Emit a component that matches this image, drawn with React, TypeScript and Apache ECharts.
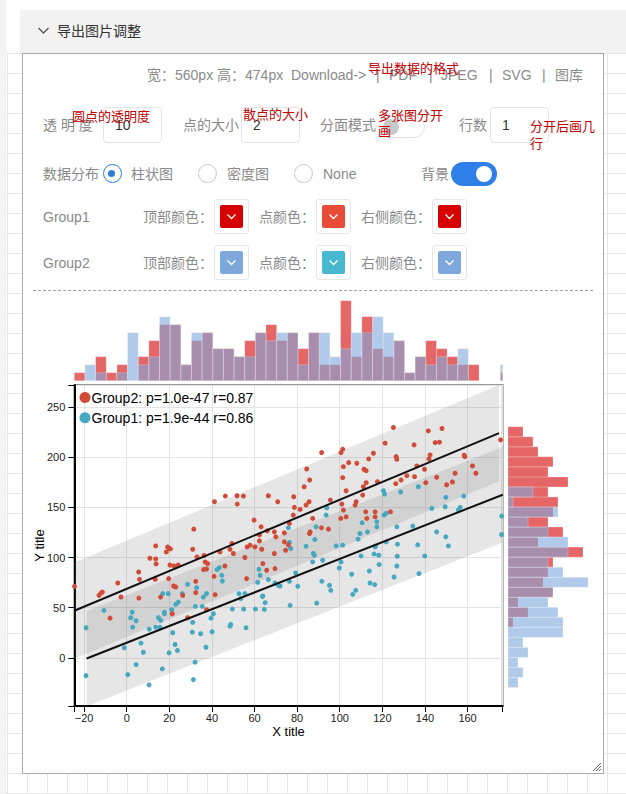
import React, { useEffect, useRef } from "react";
import * as echarts from "echarts";

// ---------------- data ----------------
const RED_NAME = "Group2: p=1.0e-47 r=0.87";
const BLUE_NAME = "Group1: p=1.9e-44 r=0.86";

const RED_POINTS: number[][] = [
  [41.2, 155.6], [46.3, 161.3], [51.8, 161.6], [54.8, 161.3], [51.9, 153.3], [31.5, 128.3], [49.4, 114], [59.8, 137.3], [63.1, 130.6], [62.3, 122.6], [66, 126.6], [62.3, 116.6],
  [91.5, 204.6], [100.6, 204.6], [101.4, 208], [84.5, 188.3], [85.9, 177.3], [83.3, 170.6], [78.4, 160.6], [66.5, 161.6], [70.9, 155.6], [78.7, 150], [81.4, 148], [84.2, 152.3], [85.6, 155.6], [78.2, 142.3], [76.4, 134], [69.3, 125.6], [74, 124.6], [85.8, 124], [86.1, 125.6], [87.3, 139], [95.6, 157.3], [91.4, 129.6], [94.7, 128.3], [100.5, 139], [103, 140.6], [101, 153.3], [101.7, 147.3], [101.4, 179.6], [101.7, 190.6], [104.2, 194.6], [108, 194], [111.4, 188], [112.4, 186.6], [113.6, 198.3], [115.8, 204], [121.3, 214], [125.2, 229.6], [126.8, 198], [126.5, 200.6], [117.7, 175.6], [112.4, 174.6], [111.1, 170.6], [110.8, 162.3], [107.7, 155.6], [107.2, 152.3], [103, 166.6], [112.2, 145.6], [116.6, 145.6], [112.7, 139], [116.6, 140.6], [123.8, 145.6], [126.3, 173.6], [128.8, 177.3], [131.5, 181.6], [135.1, 180.6], [136.2, 191.3], [134.9, 212.3], [139.8, 188], [141.9, 198.3], [142.4, 202.3], [141.6, 226.3], [144.8, 214.6], [146.8, 215], [148, 228.6], [145.5, 180], [140.4, 174.6], [150.2, 172.6], [152.9, 175.3], [154.1, 184], [158.4, 202], [158.7, 200.6], [162.3, 191.3], [163.9, 184], [175.5, 217.3],
  [-24.5, 71.3], [-13, 62.3], [-12.1, 64.6], [-11.4, 65.6], [-4.2, 74.6], [-7.8, 39.6], [-2.7, 60.6], [5.6, 85.6], [6, 78.3], [5.7, 59.6], [10.9, 99.3], [13.6, 111.6], [13.6, 98.6], [13.8, 93.6], [13.4, 78.3], [15.9, 60.6], [18.6, 105.6], [19.2, 110.6], [20, 109], [20.5, 108.6], [19.7, 79], [20.3, 92.6], [21.4, 44], [22, 71.6], [23, 70.6], [24.2, 92.6], [22.2, 91.6], [26.3, 62.3], [28.6, 40], [31, 108.3], [32.4, 76.3], [32.4, 65], [33, 100.6], [36.3, 102], [36.1, 88], [36.8, 95.6], [37.5, 88.6], [38, 94], [41, 81.3], [41.5, 63], [37.5, 48], [43.8, 105.6], [46.1, 91.6], [48.5, 108.3], [50.1, 104], [55.5, 100], [56.3, 79], [56.5, 110.6], [57.9, 112.3], [60.2, 110.6], [63.4, 108.3],
  [63.9, 94], [65.7, 87.3], [69.6, 89], [69.3, 104], [70, 120.6], [74, 115.6], [74.6, 107.3], [75.9, 112.6],
];

const BLUE_POINTS: number[][] = [
  [-19.1, 30], [-19.1, -17.7], [-10.7, 47.3], [-1.1, 10], [0.5, -16.7], [1.9, 40], [2.6, 45.6], [2.8, 30.6], [4.4, 37], [4.4, -6.7], [6.7, 14.6], [7.8, 5.6], [10.6, 28.6], [10.5, -27], [13.6, 30.6], [14.9, 40], [15.6, 30.6], [16, 37.3], [16.7, -11], [16.9, 64], [17.7, 45.6], [17.7, 44], [19.5, 64], [19.9, 5], [21.1, 48], [21.6, 25], [22.7, 13.3], [23, 53.3], [23.8, 7.3], [24.2, 55.6], [26.1, 64], [28.6, 73.3], [30.8, 25.6], [31, 35.3], [31.3, -21.7], [32.1, -4.3], [32.8, 70], [32.2, 51.3], [34.7, 24], [35.5, 51.3], [36, 60.6], [37.2, 10.6], [37.5, 64], [39.6, 39.6], [40.1, 26], [40.7, 44], [42.4, 88], [43.5, 90], [44.6, 82.3], [44.9, 76.6], [49.6, 48.6], [48.5, 31.6], [48.8, 33.3], [52.7, 64], [53.5, 59], [54.9, 48.6], [55.5, 64], [56, 30], [60.4, 48.6], [61.5, 75.3], [62.1, 88.3], [62.6, 82.3], [63.7, 61.3],
  [63.9, 61.6], [65, 55], [64.6, 48.3], [66.5, 78], [69.6, 74.6], [71.2, 72.3], [72, 71.6], [76.4, 76.3], [76.7, 52.3], [79.3, 84.6], [80.3, 71.3], [87.3, 95.6], [88.1, 102.3], [87.6, 104], [92, 97.3], [91.6, 76.3], [89.2, 54.6], [95.2, 72.3], [95.8, 67.3], [99.8, 89.6], [100.6, 95.6], [105.6, 83.3], [106.1, 63.3], [107.5, 67.3], [110, 101.6], [113.9, 86.6], [114.2, 74.6], [116.4, 73], [116.1, 103.6], [118.3, 102.3], [118.5, 93], [116.7, 111.3], [125.5, 80.6], [126.8, 91.6], [137.2, 84], [139.9, 101.6], [127, 101.3],
  [93.9, 149.6], [93.6, 142.3], [120.5, 166.6], [121, 163.3], [128.6, 165.3], [136.9, 170.6], [149.8, 160], [158.2, 161.3], [156.5, 150], [155.7, 147.3], [149.5, 150.6], [143.2, 149], [126.8, 130.6], [134.3, 131.3], [120.8, 142.3], [121.8, 144], [117.4, 130.6], [117.4, 135.6], [110.5, 134.6], [113, 125.6], [109.5, 124], [108.6, 118.3], [101.4, 112.3], [98.3, 111.6], [88.9, 130.6], [84.2, 111.3], [88.3, 118], [75.9, 129.6], [76.4, 115], [77, 109], [127.1, 113.3], [136.6, 112.6], [145.5, 125.6], [149.8, 120.6], [151, 111.6], [176, 141.3], [176, 123], [121.8, 115.6], [116.6, 110.6],
];

// regression fits and prediction bands [left end, right end]
const RED_FIT_X = [-24.6, 174.8];
const RED_FIT_Y = [47, 224];
const RED_BAND_LO = [-1, 176];
const RED_BAND_HI = [95, 272];
const BLUE_FIT_X = [-18.8, 176.5];
const BLUE_FIT_Y = [-0.7, 162.6];
const BLUE_BAND_LO = [-48.2, 115.1];
const BLUE_BAND_HI = [46.8, 210.1];

// top histogram (x distribution)
const TOP_BIN_START = -24.6;
const TOP_BIN_WIDTH = 5;
const TOP_RED_COUNTS = [1, 0, 3, 1, 2, 0, 3, 5, 7, 7, 2, 5, 6, 4, 4, 3, 5, 6, 7, 5, 6, 4, 6, 2, 2, 10, 3, 8, 4, 3, 5, 1, 3, 5, 4, 3, 2, 2, 0, 0, 1];
const TOP_BLUE_COUNTS = [0, 2, 1, 0, 1, 6, 2, 3, 8, 7, 2, 6, 6, 4, 4, 3, 3, 6, 5, 6, 6, 2, 6, 6, 3, 4, 6, 6, 8, 6, 5, 1, 3, 2, 3, 2, 4, 0, 0, 0, 2];

// right histogram (y distribution), bins listed bottom -> top
const RIGHT_BIN_START = -29.6;
const RIGHT_BIN_WIDTH = 10;
const RIGHT_RED_COUNTS = [0, 0, 0, 0, 0, 0, 1, 4, 2, 9, 7, 8, 9, 15, 6, 11, 8, 9, 10, 8, 12, 8, 9, 6, 5, 3];
const RIGHT_BLUE_COUNTS = [2, 3, 2, 4, 3, 11, 11, 10, 8, 9, 16, 11, 8, 12, 12, 8, 4, 10, 1, 5, 0, 0, 0, 0, 0, 0];

const X_TICKS = [-20, 0, 20, 40, 60, 80, 100, 120, 140, 160];
const Y_TICKS = [0, 50, 100, 150, 200, 250];
const X_MIN = -24.6;
const X_MAX = 176.5;
const Y_MIN = -48;
const Y_MAX = 272;

// colours
const TOP_RED = "#d40000";
const TOP_BLUE = "#7ea7dc";
const DOT_RED = "#d04b38";
const DOT_BLUE = "#46a9c1";

const FONT = '"Liberation Sans", Arial, "Noto Sans CJK SC", sans-serif';

function buildOption() {
  const topRed = TOP_RED_COUNTS.map((c, i) => {
    const x0 = TOP_BIN_START + i * TOP_BIN_WIDTH;
    return [x0, Math.min(x0 + TOP_BIN_WIDTH, X_MAX), c];
  });
  const topBlue = TOP_BLUE_COUNTS.map((c, i) => {
    const x0 = TOP_BIN_START + i * TOP_BIN_WIDTH;
    return [x0, Math.min(x0 + TOP_BIN_WIDTH, X_MAX), c];
  });
  const rightRed = RIGHT_RED_COUNTS.map((c, i) => {
    const y0 = RIGHT_BIN_START + i * RIGHT_BIN_WIDTH;
    return [y0, y0 + RIGHT_BIN_WIDTH, c];
  });
  const rightBlue = RIGHT_BLUE_COUNTS.map((c, i) => {
    const y0 = RIGHT_BIN_START + i * RIGHT_BIN_WIDTH;
    return [y0, y0 + RIGHT_BIN_WIDTH, c];
  });

  const topHist = (color: string) => (params: any, api: any) => {
    const c = api.value(2);
    if (!c) return null;
    const p0 = api.coord([api.value(0), c]);
    const p1 = api.coord([api.value(1), 0]);
    return {
      type: "rect",
      shape: { x: p0[0], y: p0[1], width: p1[0] - p0[0], height: p1[1] - p0[1] },
      style: { fill: color, stroke: "#ffffff", lineWidth: 0.4, opacity: 0.6 },
    };
  };
  const rightHist = (color: string) => (params: any, api: any) => {
    const c = api.value(2);
    if (!c) return null;
    const p0 = api.coord([0, api.value(1)]);
    const p1 = api.coord([c, api.value(0)]);
    return {
      type: "rect",
      shape: { x: p0[0], y: p0[1], width: p1[0] - p0[0], height: p1[1] - p0[1] },
      style: { fill: color, stroke: "#ffffff", lineWidth: 0.4, opacity: 0.6 },
    };
  };
  const band = (params: any, api: any) => {
    const x0 = api.value(0), lo0 = api.value(1), hi0 = api.value(2);
    const x1 = api.value(3), lo1 = api.value(4), hi1 = api.value(5);
    const cs = params.coordSys;
    return {
      type: "polygon",
      shape: { points: [api.coord([x0, hi0]), api.coord([x1, hi1]), api.coord([x1, lo1]), api.coord([x0, lo0])] },
      style: { fill: "rgba(128,128,128,0.2)" },
      clipPath: { type: "rect", shape: { x: cs.x, y: cs.y, width: cs.width, height: cs.height } },
    };
  };
  const minus = (v: number) => String(v).replace("-", "\u2212");

  return {
    animation: false,
    backgroundColor: "#ffffff",
    textStyle: { fontFamily: FONT },
    legend: {
      data: [RED_NAME, BLUE_NAME],
      orient: "vertical",
      left: 46.5,
      top: 98.5,
      padding: 0,
      itemWidth: 11,
      itemHeight: 11,
      itemGap: 6.3,
      icon: "circle",
      selectedMode: false,
      textStyle: { fontSize: 14, color: "#000", fontFamily: FONT, padding: [0, 0, 0, -4] },
    },
    grid: [
      { left: 41.3, top: 93, width: 428.4, height: 321, show: true, borderColor: "#999999", borderWidth: 2, backgroundColor: "#fff", containLabel: false, outerBoundsMode: "none" },
      { left: 41.3, top: 8.7, width: 428.4, height: 80, containLabel: false, outerBoundsMode: "none" },
      { left: 475, top: 93, width: 80, height: 321, containLabel: false, outerBoundsMode: "none" },
    ],
    xAxis: [
      {
        type: "value", gridIndex: 0, min: X_MIN, max: X_MAX,
        name: "X title", nameLocation: "middle", nameGap: 19, nameMoveOverlap: false,
        nameTextStyle: { fontSize: 13, color: "#000" },
        axisLine: { show: true, onZero: false, lineStyle: { color: "#000", width: 2 } },
        axisTick: { show: true, length: 6, customValues: [X_MIN, ...X_TICKS, X_MAX], lineStyle: { color: "#000", width: 1 } },
        axisLabel: { customValues: X_TICKS, fontSize: 11, color: "#222", margin: 6, formatter: minus },
        splitLine: { show: true, lineStyle: { color: "#e3e3e3", width: 1 } },
      },
      { type: "value", gridIndex: 1, min: X_MIN, max: X_MAX, show: false, splitLine: { show: false } },
      { type: "value", gridIndex: 2, min: 0, max: 16, show: false, splitLine: { show: false } },
    ],
    yAxis: [
      {
        type: "value", gridIndex: 0, min: Y_MIN, max: Y_MAX,
        name: "Y title", nameLocation: "middle", nameGap: 28, nameMoveOverlap: false,
        nameTextStyle: { fontSize: 13, color: "#000" },
        axisLine: { show: true, onZero: false, lineStyle: { color: "#000", width: 2 } },
        axisTick: { show: true, length: 6, customValues: [Y_MIN, ...Y_TICKS, Y_MAX], lineStyle: { color: "#000", width: 1 } },
        axisLabel: { customValues: Y_TICKS, fontSize: 11, color: "#222", margin: 9, formatter: minus },
        splitLine: { show: true, lineStyle: { color: "#e3e3e3", width: 1 } },
      },
      { type: "value", gridIndex: 1, min: 0, max: 10, show: false, splitLine: { show: false } },
      { type: "value", gridIndex: 2, min: Y_MIN, max: Y_MAX, show: false, splitLine: { show: false } },
    ],
    series: [
      {
        type: "custom", name: "band2", xAxisIndex: 0, yAxisIndex: 0, z: 1, silent: true,
        renderItem: band, encode: { x: [0, 3], y: [1, 2, 4, 5] },
        data: [[RED_FIT_X[0], RED_BAND_LO[0], RED_BAND_HI[0], RED_FIT_X[1], RED_BAND_LO[1], RED_BAND_HI[1]]],
      },
      {
        type: "custom", name: "band1", xAxisIndex: 0, yAxisIndex: 0, z: 1, silent: true,
        renderItem: band, encode: { x: [0, 3], y: [1, 2, 4, 5] },
        data: [[BLUE_FIT_X[0], BLUE_BAND_LO[0], BLUE_BAND_HI[0], BLUE_FIT_X[1], BLUE_BAND_LO[1], BLUE_BAND_HI[1]]],
      },
      {
        type: "scatter", name: BLUE_NAME, xAxisIndex: 0, yAxisIndex: 0, z: 3,
        symbolSize: 5, itemStyle: { color: DOT_BLUE, opacity: 1 }, data: BLUE_POINTS,
      },
      {
        type: "scatter", name: RED_NAME, xAxisIndex: 0, yAxisIndex: 0, z: 3,
        symbolSize: 5, itemStyle: { color: DOT_RED, opacity: 1 }, data: RED_POINTS,
      },
      {
        type: "line", name: "fit2", xAxisIndex: 0, yAxisIndex: 0, z: 4, silent: true,
        showSymbol: false, lineStyle: { color: "#111", width: 2 },
        data: [[RED_FIT_X[0], RED_FIT_Y[0]], [RED_FIT_X[1], RED_FIT_Y[1]]],
      },
      {
        type: "line", name: "fit1", xAxisIndex: 0, yAxisIndex: 0, z: 4, silent: true,
        showSymbol: false, lineStyle: { color: "#111", width: 2 },
        data: [[BLUE_FIT_X[0], BLUE_FIT_Y[0]], [BLUE_FIT_X[1], BLUE_FIT_Y[1]]],
      },
      { type: "custom", name: "topRed", xAxisIndex: 1, yAxisIndex: 1, silent: true, renderItem: topHist(TOP_RED), encode: { x: [0, 1], y: 2 }, data: topRed },
      { type: "custom", name: "topBlue", xAxisIndex: 1, yAxisIndex: 1, silent: true, renderItem: topHist(TOP_BLUE), encode: { x: [0, 1], y: 2 }, data: topBlue },
      { type: "custom", name: "rightRed", xAxisIndex: 2, yAxisIndex: 2, silent: true, renderItem: rightHist(TOP_RED), encode: { x: 2, y: [0, 1] }, data: rightRed },
      { type: "custom", name: "rightBlue", xAxisIndex: 2, yAxisIndex: 2, silent: true, renderItem: rightHist(TOP_BLUE), encode: { x: 2, y: [0, 1] }, data: rightBlue },
    ],
  };
}

// ---------------- UI helpers ----------------
const GRAY = "#8a8a8a";
const ANNOT = "#c00000";

function T(props: { x: number; y: number; c?: string; s?: number; children: React.ReactNode }) {
  const s = props.s || 14;
  return (
    <div style={{ position: "absolute", left: props.x, top: props.y - 10, lineHeight: "20px", height: 20, fontSize: s, color: props.c || GRAY, whiteSpace: "nowrap" }}>
      {props.children}
    </div>
  );
}

function InputBox(props: { x: number; v: string }) {
  return (
    <>
      <div style={{ position: "absolute", left: props.x, top: 107, width: 59, height: 36, border: "1px solid #e4e4e4", borderRadius: 4, boxSizing: "border-box", background: "#fff" }} />
      <T x={props.x + 12} y={125} c="#333">{props.v}</T>
    </>
  );
}

function Radio(props: { cx: number; on?: boolean }) {
  return (
    <div style={{ position: "absolute", left: props.cx - 9.5, top: 173.5 - 9.5, width: 19, height: 19, borderRadius: "50%", border: "1.5px solid " + (props.on ? "#2e7ddc" : "#c9c9c9"), boxSizing: "border-box", background: "#fff" }}>
      {props.on ? <div style={{ position: "absolute", left: 4.5, top: 4.5, width: 7, height: 7, borderRadius: "50%", background: "#2e7ddc" }} /> : null}
    </div>
  );
}

function ColorBox(props: { x: number; y: number; color: string }) {
  return (
    <div style={{ position: "absolute", left: props.x, top: props.y, width: 35, height: 35, border: "1px solid #e6e6e6", borderRadius: 3, boxSizing: "border-box", background: "#fff" }}>
      <div style={{ position: "absolute", left: 5, top: 5, width: 23, height: 23, borderRadius: 2, background: props.color }}>
        <svg width={23} height={23} style={{ position: "absolute", left: 0, top: 0 }}>
          <polyline points="7.5,9.5 11.5,13.5 15.5,9.5" fill="none" stroke="#fff" strokeWidth={1.3} />
        </svg>
      </div>
    </div>
  );
}

export default function App() {
  const ref = useRef<HTMLDivElement>(null);
  useEffect(() => {
    if (!ref.current) return;
    const chart = echarts.init(ref.current, null, { renderer: "svg" });
    chart.setOption(buildOption() as any);
    return () => chart.dispose();
  }, []);

  return (
    <div style={{ position: "absolute", left: 0, top: 0, width: 626, height: 794, overflow: "hidden", background: "#fff", fontFamily: FONT }}>
      {/* grid background */}
      <div style={{ position: "absolute", left: 6, top: 53, width: 620, height: 741, backgroundImage: "linear-gradient(#e6e6e6 1px, transparent 1px), linear-gradient(90deg, #e6e6e6 1px, transparent 1px)", backgroundSize: "20px 20px", backgroundPosition: "1px 0px" }} />
      <div style={{ position: "absolute", left: 0, top: 0, width: 6, height: 794, background: "#f3f3f3" }} />
      {/* header */}
      <div style={{ position: "absolute", left: 20, top: 10, width: 606, height: 43, background: "#f2f2f2" }} />
      <svg width={14} height={10} style={{ position: "absolute", left: 37, top: 26 }}>
        <polyline points="1.5,2 6.5,7 11.5,2" fill="none" stroke="#555" strokeWidth={1.3} />
      </svg>
      <T x={57} y={31} c="#333">导出图片调整</T>
      {/* box */}
      <div style={{ position: "absolute", left: 22, top: 53, width: 582, height: 721, border: "1px solid #a9a9a9", boxSizing: "border-box", background: "#fff" }} />
      {/* row 1 */}
      <T x={147} y={75}>宽：560px 高：474px</T>
      <T x={291} y={75}>Download-&gt;</T>
      <T x={376} y={75}>|</T>
      <T x={389} y={75}>PDF</T>
      <T x={429} y={75}>|</T>
      <T x={441} y={75}>JPEG</T>
      <T x={489} y={75}>|</T>
      <T x={502} y={75}>SVG</T>
      <T x={542} y={75}>|</T>
      <T x={555} y={75}>图库</T>
      <T x={368} y={69} c={ANNOT} s={13}>导出数据的格式</T>
      {/* row 2 */}
      <T x={43} y={125}>透 明 度</T>
      <InputBox x={103} v="10" />
      <T x={183} y={125}>点的大小</T>
      <InputBox x={241} v="2" />
      <T x={320} y={125}>分面模式</T>
      <div style={{ position: "absolute", left: 379, top: 116, width: 46, height: 22, borderRadius: 11, border: "1px solid #e2e2e2", boxSizing: "border-box", background: "#fff" }}>
        <div style={{ position: "absolute", left: 3, top: 2, width: 16, height: 16, borderRadius: "50%", background: "#c8c8c8" }} />
      </div>
      <T x={459} y={125}>行数</T>
      <InputBox x={490} v="1" />
      <T x={72} y={117} c={ANNOT} s={13}>圆点的透明度</T>
      <T x={243} y={115} c={ANNOT} s={13}>散点的大小</T>
      <T x={378} y={116} c={ANNOT} s={13}>多张图分开</T>
      <T x={378} y={132} c={ANNOT} s={13}>画</T>
      <T x={530} y={127} c={ANNOT} s={13}>分开后画几</T>
      <T x={530} y={144} c={ANNOT} s={13}>行</T>
      {/* row 3 */}
      <T x={43} y={174}>数据分布</T>
      <Radio cx={112} on />
      <T x={131} y={174}>柱状图</T>
      <Radio cx={207.5} />
      <T x={227} y={174}>密度图</T>
      <Radio cx={303} />
      <T x={323} y={174}>None</T>
      <T x={421} y={174}>背景</T>
      <div style={{ position: "absolute", left: 451, top: 162, width: 46, height: 24, borderRadius: 12, background: "#2f7fe8" }}>
        <div style={{ position: "absolute", left: 25, top: 4, width: 16, height: 16, borderRadius: "50%", background: "#fff" }} />
      </div>
      {/* rows 4-5 */}
      <T x={43} y={217}>Group1</T>
      <T x={143} y={217}>顶部颜色：</T>
      <ColorBox x={214} y={199} color="#d60000" />
      <T x={259} y={217}>点颜色：</T>
      <ColorBox x={316} y={199} color="#e84b37" />
      <T x={361} y={217}>右侧颜色：</T>
      <ColorBox x={432} y={199} color="#d60000" />
      <T x={43} y={263}>Group2</T>
      <T x={143} y={263}>顶部颜色：</T>
      <ColorBox x={214} y={245} color="#7ea7dc" />
      <T x={259} y={263}>点颜色：</T>
      <ColorBox x={316} y={245} color="#48b8d1" />
      <T x={361} y={263}>右侧颜色：</T>
      <ColorBox x={432} y={245} color="#7ea7dc" />
      {/* dashed separator */}
      <div style={{ position: "absolute", left: 33, top: 290, width: 560, height: 0, borderTop: "1px dashed #a0a0a0" }} />
      {/* chart */}
      <div ref={ref} style={{ position: "absolute", left: 33, top: 292, width: 560, height: 474 }} />
      {/* resize grip */}
      <svg width={12} height={12} style={{ position: "absolute", left: 590, top: 760 }}>
        <line x1={3} y1={11} x2={11} y2={3} stroke="#666" strokeWidth={1} />
        <line x1={6} y1={11} x2={11} y2={6} stroke="#666" strokeWidth={1} />
        <line x1={9} y1={11} x2={11} y2={9} stroke="#666" strokeWidth={1} />
      </svg>
    </div>
  );
}
